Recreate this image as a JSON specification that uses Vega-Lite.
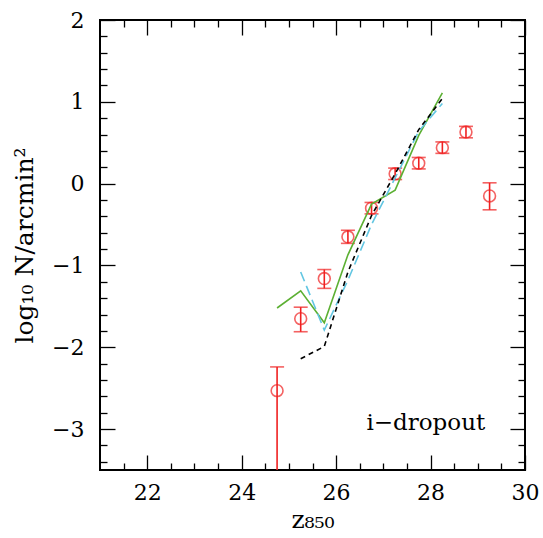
{
  "$schema": "https://vega.github.io/schema/vega-lite/v6.json",
  "width": 425,
  "height": 450,
  "autosize": {"type": "none"},
  "padding": {"left": 100, "top": 20, "right": 18, "bottom": 68},
  "background": "white",
  "config": {
    "view": {"stroke": "black", "strokeWidth": 2},
    "axis": {
      "domain": false, "grid": false, "tickColor": "black", "tickWidth": 1.3,
      "labelFont": "DejaVu Serif", "labelFontSize": 22, "labelColor": "black",
      "titleFont": "DejaVu Serif", "titleFontSize": 25, "titleColor": "black", "titleFontWeight": "normal",
      "labelFlush": false, "labelOverlap": false, "labelBound": false
    }
  },
  "datasets": {
    "obs": [
      {"mag": 24.75, "logN": -2.53, "lo": -5.0, "hi": -2.24},
      {"mag": 25.25, "logN": -1.65, "lo": -1.81, "hi": -1.51},
      {"mag": 25.75, "logN": -1.16, "lo": -1.28, "hi": -1.05},
      {"mag": 26.25, "logN": -0.65, "lo": -0.73, "hi": -0.57},
      {"mag": 26.75, "logN": -0.30, "lo": -0.37, "hi": -0.23},
      {"mag": 27.25, "logN": 0.12, "lo": 0.05, "hi": 0.19},
      {"mag": 27.75, "logN": 0.25, "lo": 0.18, "hi": 0.32},
      {"mag": 28.25, "logN": 0.44, "lo": 0.37, "hi": 0.51},
      {"mag": 28.75, "logN": 0.63, "lo": 0.56, "hi": 0.70},
      {"mag": 29.25, "logN": -0.15, "lo": -0.32, "hi": 0.01}
    ],
    "green": [
      {"mag": 24.75, "logN": -1.52},
      {"mag": 25.25, "logN": -1.31},
      {"mag": 25.75, "logN": -1.70},
      {"mag": 26.25, "logN": -0.87},
      {"mag": 26.75, "logN": -0.25},
      {"mag": 27.25, "logN": -0.08},
      {"mag": 27.75, "logN": 0.59},
      {"mag": 28.25, "logN": 1.11}
    ],
    "cyan": [
      {"mag": 25.25, "logN": -1.08},
      {"mag": 25.75, "logN": -1.79},
      {"mag": 26.25, "logN": -1.18},
      {"mag": 26.75, "logN": -0.50},
      {"mag": 27.25, "logN": 0.07},
      {"mag": 27.75, "logN": 0.64},
      {"mag": 28.25, "logN": 0.98}
    ],
    "black": [
      {"mag": 25.25, "logN": -2.14},
      {"mag": 25.75, "logN": -1.99},
      {"mag": 26.25, "logN": -1.08},
      {"mag": 26.75, "logN": -0.39},
      {"mag": 27.25, "logN": 0.12},
      {"mag": 27.75, "logN": 0.66},
      {"mag": 28.25, "logN": 1.04}
    ]
  },
  "resolve": {"scale": {"x": "shared", "y": "shared"}, "axis": {"x": "independent", "y": "independent"}},
  "layer": [
    {
      "data": {"name": "obs"},
      "mark": {"type": "rule", "color": "#f02020", "strokeWidth": 1.6, "clip": true},
      "encoding": {
        "x": {"field": "mag", "type": "quantitative", "scale": {"domain": [21, 30], "nice": false, "zero": false},
              "axis": {"orient": "bottom", "values": [22, 24, 26, 28, 30], "ticks": false, "labelPadding": 12, "title": "z₈₅₀", "titlePadding": 4}},
        "y": {"field": "lo", "type": "quantitative", "scale": {"domain": [-3.5, 2], "nice": false, "zero": false},
              "axis": {"orient": "left", "values": [-3, -2, -1, 0, 1, 2], "ticks": false, "labelPadding": 16, "title": "log₁₀  N/arcmin²", "titlePadding": 14}},
        "y2": {"field": "hi"}
      }
    },
    {
      "data": {"name": "obs"},
      "transform": [{"fold": ["lo", "hi"], "as": ["end", "val"]}],
      "mark": {"type": "tick", "orient": "horizontal", "color": "#f02020", "size": 14, "thickness": 1.6, "clip": true},
      "encoding": {
        "x": {"field": "mag", "type": "quantitative", "scale": {"domain": [21, 30], "nice": false, "zero": false},
              "axis": {"orient": "bottom", "values": [22, 24, 26, 28, 30], "tickSize": -15, "labels": false, "title": null}},
        "y": {"field": "val", "type": "quantitative", "scale": {"domain": [-3.5, 2], "nice": false, "zero": false},
              "axis": {"orient": "left", "values": [-3, -2, -1, 0, 1, 2], "tickSize": -15, "labels": false, "title": null}}
      }
    },
    {
      "data": {"name": "obs"},
      "mark": {"type": "point", "shape": "circle", "color": "#f02020", "filled": false, "size": 140, "strokeWidth": 1.6, "clip": true},
      "encoding": {
        "x": {"field": "mag", "type": "quantitative", "scale": {"domain": [21, 30], "nice": false, "zero": false},
              "axis": {"orient": "bottom", "values": [21.5, 22.5, 23, 23.5, 24.5, 25, 25.5, 26.5, 27, 27.5, 28.5, 29, 29.5], "tickSize": -7, "labels": false, "title": null}},
        "y": {"field": "logN", "type": "quantitative", "scale": {"domain": [-3.5, 2], "nice": false, "zero": false},
              "axis": {"orient": "left", "values": [-3.4, -3.2, -2.8, -2.6, -2.4, -2.2, -1.8, -1.6, -1.4, -1.2, -0.8, -0.6, -0.4, -0.2, 0.2, 0.4, 0.6, 0.8, 1.2, 1.4, 1.6, 1.8], "tickSize": -7, "labels": false, "title": null}}
      }
    },
    {
      "data": {"name": "green"},
      "mark": {"type": "line", "color": "#5cb033", "strokeWidth": 1.6},
      "encoding": {
        "x": {"field": "mag", "type": "quantitative", "scale": {"domain": [21, 30], "nice": false, "zero": false},
              "axis": {"orient": "top", "values": [22, 24, 26, 28, 30], "tickSize": -15, "labels": false, "title": null}},
        "y": {"field": "logN", "type": "quantitative", "scale": {"domain": [-3.5, 2], "nice": false, "zero": false},
              "axis": {"orient": "right", "values": [-3, -2, -1, 0, 1, 2], "tickSize": -15, "labels": false, "title": null}}
      }
    },
    {
      "data": {"name": "cyan"},
      "mark": {"type": "line", "color": "#62c6e2", "strokeWidth": 1.6, "strokeDash": [10, 5]},
      "encoding": {
        "x": {"field": "mag", "type": "quantitative", "scale": {"domain": [21, 30], "nice": false, "zero": false},
              "axis": {"orient": "top", "values": [21.5, 22.5, 23, 23.5, 24.5, 25, 25.5, 26.5, 27, 27.5, 28.5, 29, 29.5], "tickSize": -7, "labels": false, "title": null}},
        "y": {"field": "logN", "type": "quantitative", "scale": {"domain": [-3.5, 2], "nice": false, "zero": false},
              "axis": {"orient": "right", "values": [-3.4, -3.2, -2.8, -2.6, -2.4, -2.2, -1.8, -1.6, -1.4, -1.2, -0.8, -0.6, -0.4, -0.2, 0.2, 0.4, 0.6, 0.8, 1.2, 1.4, 1.6, 1.8], "tickSize": -7, "labels": false, "title": null}}
      }
    },
    {
      "data": {"name": "black"},
      "mark": {"type": "line", "color": "black", "strokeWidth": 1.6, "strokeDash": [5, 4]},
      "encoding": {
        "x": {"field": "mag", "type": "quantitative", "scale": {"domain": [21, 30], "nice": false, "zero": false}, "axis": null},
        "y": {"field": "logN", "type": "quantitative", "scale": {"domain": [-3.5, 2], "nice": false, "zero": false}, "axis": null}
      }
    },
    {
      "data": {"values": [{"label": "i−dropout"}]},
      "mark": {"type": "text", "font": "DejaVu Serif", "fontSize": 23, "color": "black", "align": "center", "baseline": "middle"},
      "encoding": {
        "x": {"datum": 27.9, "type": "quantitative", "scale": {"domain": [21, 30], "nice": false, "zero": false}, "axis": null},
        "y": {"datum": -2.93, "type": "quantitative", "scale": {"domain": [-3.5, 2], "nice": false, "zero": false}, "axis": null},
        "text": {"field": "label"}
      }
    }
  ]
}
